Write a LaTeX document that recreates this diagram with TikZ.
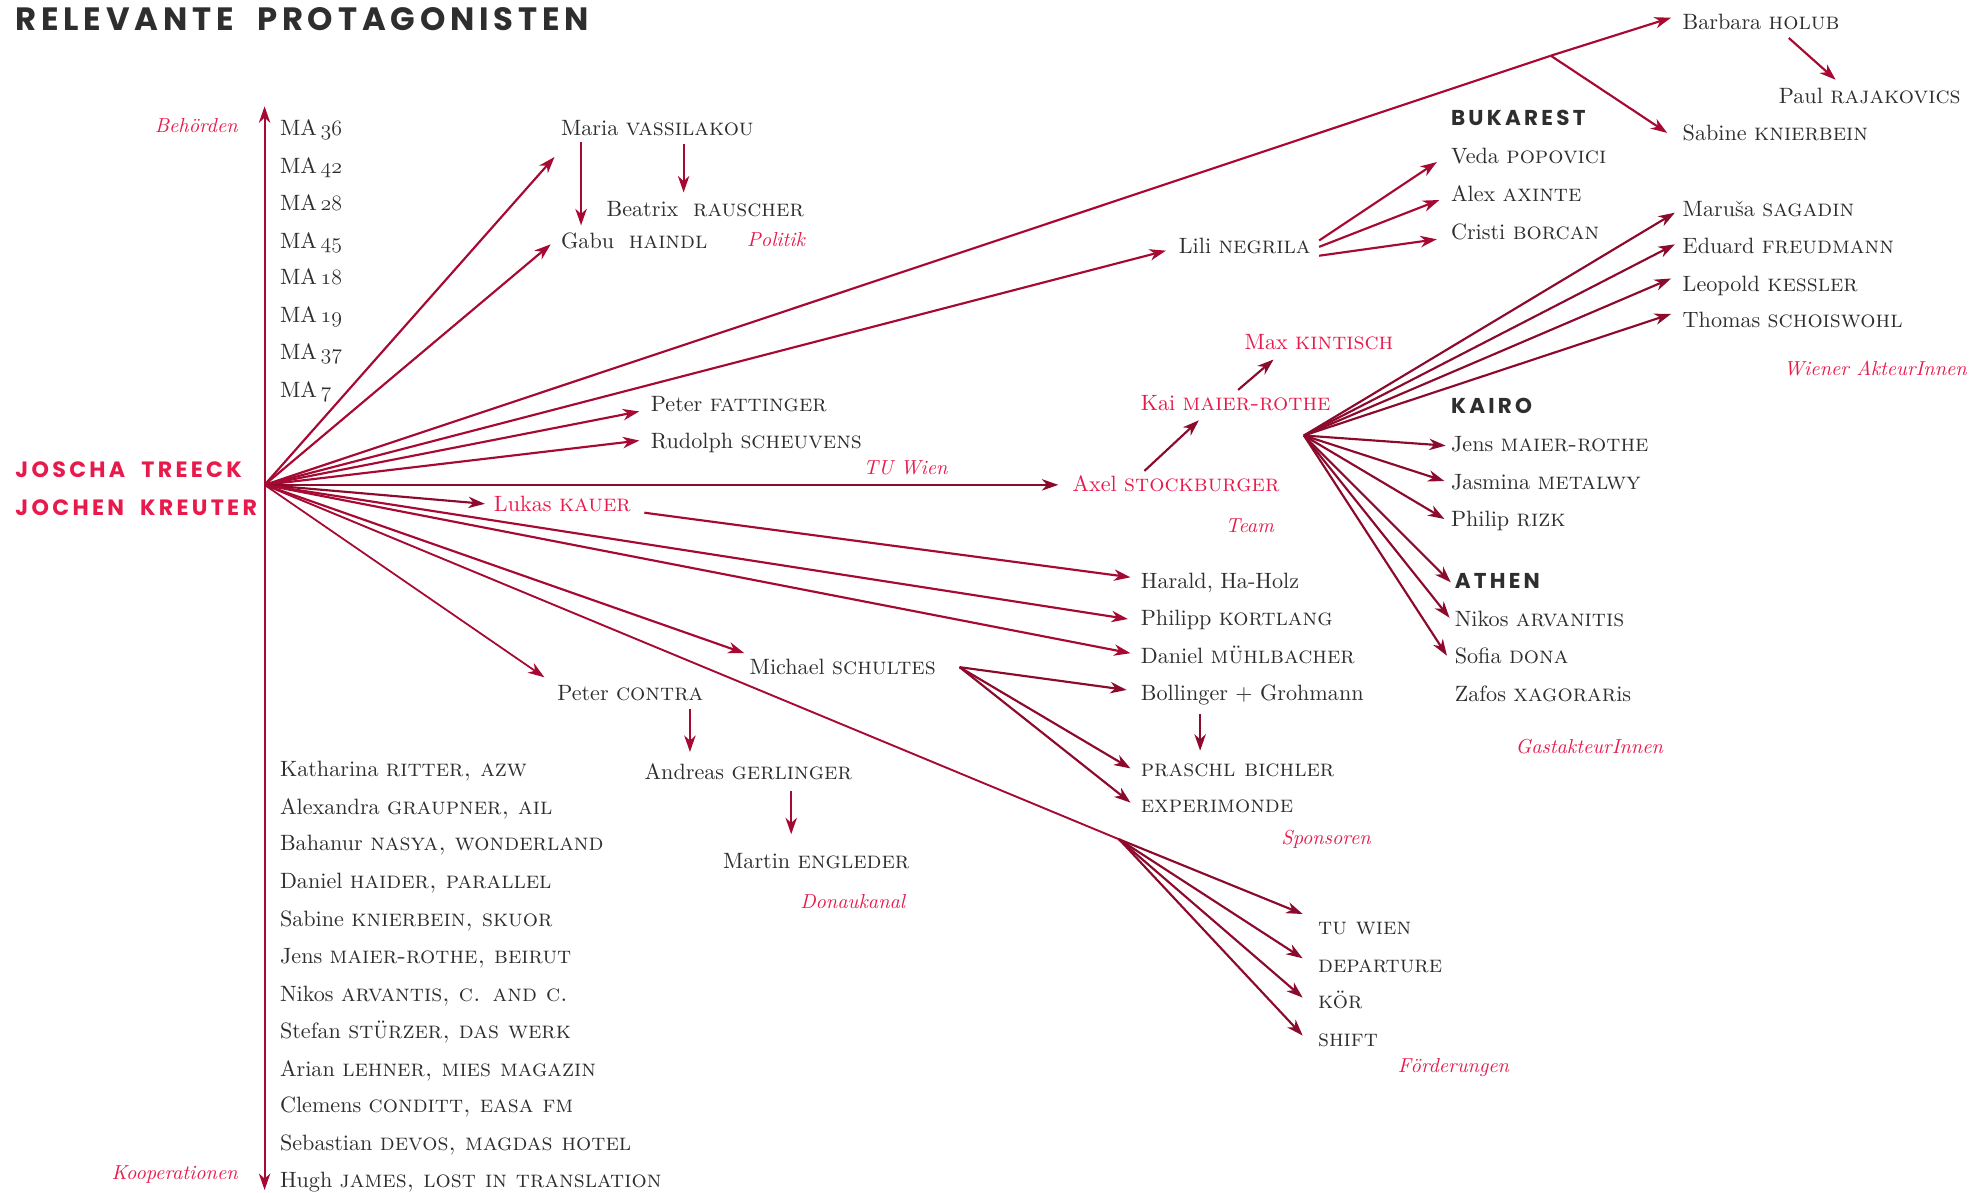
\documentclass[tikz,border=0pt]{standalone}
\usepackage{fontspec}
\setmainfont{lmroman10-regular.otf}[ItalicFont=lmroman10-italic.otf, BoldFont=lmroman10-bold.otf, SmallCapsFont=lmromancaps10-regular.otf]
\usetikzlibrary{arrows.meta}
\newfontfamily\hsans{Poppins}[LetterSpace=15]
\newcommand\osnum[1]{{\usefont{OML}{cmm}{m}{it}#1}}
\newcommand\sn[1]{{\fontsize{18.9}{18.9}\selectfont\scshape #1}}
\definecolor{ink}{HTML}{2E2E2E}
\definecolor{arrc}{HTML}{A60A33}
\definecolor{arrd}{HTML}{8C0A2C}
\definecolor{lab}{HTML}{E8194B}
\tikzset{
  txt/.style={anchor=base west, inner sep=0pt, text=ink, font=\fontsize{17.5}{17.5}\selectfont},
  redtxt/.style={txt, text=lab},
  cat/.style={anchor=base west, inner sep=0pt, text=lab, font=\fontsize{16}{16}\selectfont\itshape},
  catr/.style={cat, anchor=base east},
  city/.style={anchor=base west, inner sep=0pt, text=ink, font=\hsans\bfseries\fontsize{17}{17}\selectfont},
  bigname/.style={anchor=base west, inner sep=0pt, text=lab, font=\hsans\bfseries\fontsize{17.5}{17.5}\selectfont},
  arrow/.style={draw=arrc, line width=1.7pt, -{Stealth[length=13pt,width=9pt,inset=4pt]}},
  arrowd/.style={arrow, draw=arrd},
  plain/.style={draw=arrc, line width=1.7pt},
}
\begin{document}
\begin{tikzpicture}[x=1pt,y=-1pt]
\useasboundingbox (0,0) rectangle (1568,942);
% title
\node[anchor=base west, inner sep=0pt, text=ink, font=\hsans\bfseries\fontsize{25.5}{25.5}\selectfont] (title) at (12,24) {RELEVANTE\ \ PROTAGONISTEN};
\node[bigname] (joscha) at (12,377) {JOSCHA\ \ TREECK};
\node[bigname] (jochen) at (12,407) {JOCHEN\ \ KREUTER};
\node[catr] (behoerden) at (188,105) {Behörden};
\node[catr] (koop) at (188,932) {Kooperationen};
% MA list
\foreach \n/\y in {36/107,42/137,28/166,45/196,18/225,19/255,37/284,7/314}
  \node[txt] (ma\n) at (221,\y) {MA\,\osnum{\n}};
% cooperations
\node[txt] (k1) at (221,613) {Katharina \sn{ritter, azw}};
\node[txt] (k2) at (221,643) {Alexandra \sn{graupner, ail}};
\node[txt] (k3) at (221,672) {Bahanur \sn{nasya, wonderland}};
\node[txt] (k4) at (221,702) {Daniel \sn{haider, parallel}};
\node[txt] (k5) at (221,732) {Sabine \sn{knierbein, skuor}};
\node[txt] (k6) at (221,761) {Jens \sn{maier-rothe, beirut}};
\node[txt] (k7) at (221,791) {Nikos \sn{arvantis, c. and c.}};
\node[txt] (k8) at (221,820) {Stefan \sn{stürzer, das werk}};
\node[txt] (k9) at (221,850) {Arian \sn{lehner, mies magazin}};
\node[txt] (k10) at (221,879) {Clemens \sn{conditt, easa fm}};
\node[txt] (k11) at (221,909) {Sebastian \sn{devos, magdas hotel}};
\node[txt] (k12) at (221,938) {Hugh \sn{james, lost in translation}};
% politik
\node[txt] (maria) at (443,107) {Maria \sn{vassilakou}};
\node[txt] (beatrix) at (479,171) {Beatrix\ \ \sn{rauscher}};
\node[txt] (gabu) at (443,196) {Gabu\ \ \sn{haindl}};
\node[cat] (politik) at (590,195) {Politik};
% TU
\node[txt] (pf) at (514,325) {Peter \sn{fattinger}};
\node[txt] (rs) at (514,354) {Rudolph \sn{scheuvens}};
\node[cat] (tuwien) at (682,375) {TU Wien};
% team
\node[redtxt] (lukas) at (390,404) {Lukas \sn{kauer}};
\node[redtxt] (axel) at (847,388) {Axel \sn{stockburger}};
\node[redtxt] (kai) at (901,324) {Kai \sn{maier-rothe}};
\node[redtxt] (max) at (983,276) {Max \sn{kintisch}};
\node[cat] (team) at (968,421) {Team};
% Bukarest
\node[txt] (lili) at (931,200) {Lili \sn{negrila}};
\node[city] (buk) at (1146,99) {BUKAREST};
\node[txt] (veda) at (1146,129) {Veda \sn{popovici}};
\node[txt] (alex) at (1146,159) {Alex \sn{axinte}};
\node[txt] (cristi) at (1146,189) {Cristi \sn{borcan}};
% Wien
\node[txt] (barbara) at (1329,23) {Barbara \sn{holub}};
\node[txt] (paul) at (1405,82) {Paul \sn{rajakovics}};
\node[txt] (sabine) at (1329,111) {Sabine \sn{knierbein}};
\node[txt] (marusa) at (1329,171) {Maruša \sn{sagadin}};
\node[txt] (eduard) at (1329,200) {Eduard \sn{freudmann}};
\node[txt] (leopold) at (1329,230) {Leopold \sn{kessler}};
\node[txt] (thomas) at (1329,259) {Thomas \sn{schoiswohl}};
\node[cat] (wiener) at (1409,297) {Wiener AkteurInnen};
% Kairo / Athen
\node[city] (kairo) at (1146,327) {KAIRO};
\node[txt] (jens) at (1146,357) {Jens \sn{maier-rothe}};
\node[txt] (jasmina) at (1146,387) {Jasmina \sn{metalwy}};
\node[txt] (philip) at (1146,416) {Philip \sn{rizk}};
\node[city] (athen) at (1149,465) {ATHEN};
\node[txt] (nikos) at (1149,495) {Nikos \sn{arvanitis}};
\node[txt] (sofia) at (1149,524) {Sofia \sn{dona}};
\node[txt] (zafos) at (1149,554) {Zafos \sn{xagorar}is};
\node[cat] (gast) at (1197,595) {GastakteurInnen};
% sponsors
\node[txt] (harald) at (901,465) {Harald, Ha-Holz};
\node[txt] (philipp) at (901,494) {Philipp \sn{kortlang}};
\node[txt] (daniel) at (901,524) {Daniel \sn{mühlbacher}};
\node[txt] (bolli) at (901,553) {Bollinger + Grohmann};
\node[txt] (praschl) at (901,613) {\sn{praschl bichler}};
\node[txt] (experi) at (901,642) {\sn{experimonde}};
\node[cat] (sponsoren) at (1012,667) {Sponsoren};
\node[txt] (michael) at (592,533) {Michael \sn{schultes}};
% Donaukanal
\node[txt] (contra) at (440,553) {Peter \sn{contra}};
\node[txt] (andreas) at (509,616) {Andreas \sn{gerlinger}};
\node[txt] (martin) at (571,686) {Martin \sn{engleder}};
\node[cat] (donau) at (632,718) {Donaukanal};
% Foerderungen
\node[txt] (tuw) at (1041,738) {\sn{tu wien}};
\node[txt] (dep) at (1041,768) {\sn{departure}};
\node[txt] (koer) at (1041,797) {\sn{kör}};
\node[txt] (shift) at (1041,827) {\sn{shift}};
\node[cat] (foerd) at (1104,847) {Förderungen};

% ---- coordinates
\coordinate (hub) at (209,383);
\coordinate (axtop) at (209,84);
\coordinate (axbot) at (209,940);
\coordinate (junc) at (1225,44);
\coordinate (fb) at (884,663);
\coordinate (kh) at (1030,344);
\coordinate (mich) at (758,527);

% ---- connectors
\draw[plain, {Stealth[length=13pt,width=9pt,inset=4pt]}-{Stealth[length=13pt,width=9pt,inset=4pt]}] (axtop) -- (axbot);
\draw[arrow] (hub) -- (438,124) coordinate (t-maria);
\draw[arrow] (hub) -- (435,193) coordinate (t-gabu);
\draw[plain] (hub) -- (junc);
\draw[arrow] (junc) -- (1320,14) coordinate (t-barbara);
\draw[arrow] (junc) -- (1317,105) coordinate (t-sabine);
\draw[arrow] (hub) -- (921,198) coordinate (t-lili);
\draw[arrow] (hub) -- (505,325) coordinate (t-pf);
\draw[arrow] (hub) -- (505,348) coordinate (t-rs);
\draw[arrowd, line width=2pt] (hub) -- (836,383) coordinate (t-axel);
\draw[arrowd] (hub) -- (383,398) coordinate (t-lukas);
\draw[arrow] (hub) -- (891,489) coordinate (t-philipp);
\draw[arrow] (hub) -- (893,516) coordinate (t-daniel);
\draw[arrow] (hub) -- (588,516) coordinate (t-michael);
\draw[arrow, line width=1.4pt] (hub) -- (430,535) coordinate (t-contra);
\draw[plain, line width=1.5pt] (hub) -- (fb);
\foreach \ty in {722,757,788,818}
  \draw[arrowd] (fb) -- (1029,\ty);
\draw[arrow] (509,405) -- (893,456) coordinate (t-harald);
% down arrows
\draw[arrow] (459,112) -- (459,178);
\draw[arrow] (540,114) -- (540,152);
\draw[arrow] (545,560) -- (545,594);
\draw[arrow] (625,625) -- (625,659);
\draw[arrowd] (948,564) -- (948,593);
% Michael
\draw[arrowd] (mich) -- (890,545);
\draw[arrowd] (mich) -- (893,607);
\draw[arrowd] (mich) -- (893,634);
% Lili
\draw[arrow] (1042,190) -- (1135,128);
\draw[arrow] (1042,195) -- (1137,158);
\draw[arrow] (1042,202) -- (1135,189);
% Barbara -> Paul
\draw[arrow] (1413,30) -- (1450,63);
% team
\draw[arrowd] (904,372) -- (947,332);
\draw[arrowd] (978,308) -- (1006,284);
% Kai hub
\foreach \tx/\ty in {1323/168,1323/193,1320/220,1320/248,1142/352,1141/380,1141/410,1146/460,1145/488,1143/518}
  \draw[arrowd] (kh) -- (\tx,\ty);
\end{tikzpicture}
\end{document}
